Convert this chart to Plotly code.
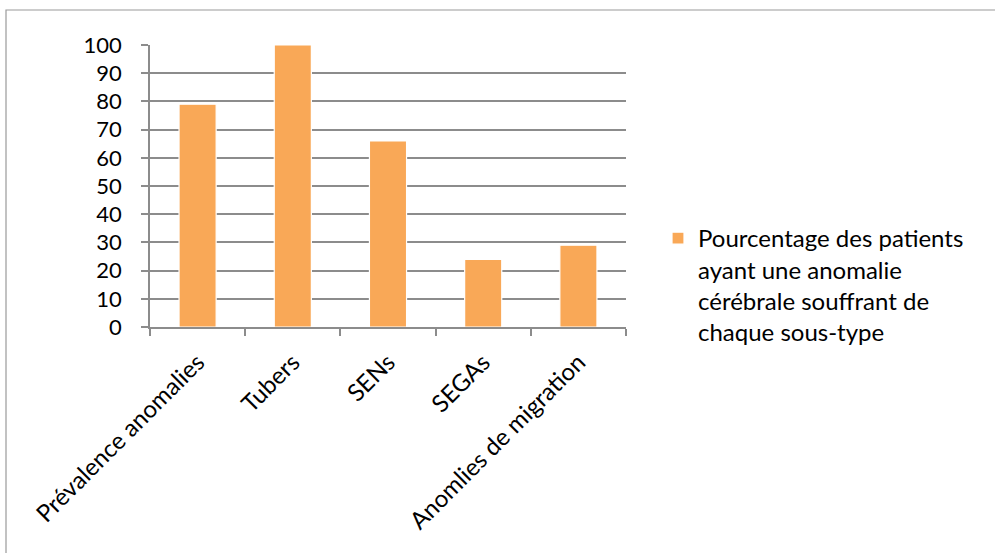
import plotly.graph_objects as go

categories = ["Prévalence anomalies", "Tubers", "SENs", "SEGAs", "Anomlies de migration"]
values = [79, 100, 66, 24, 29]
series_name = "Pourcentage des patients<br>ayant une anomalie<br>cérébrale souffrant de<br>chaque sous-type"
y_ticks = [0, 10, 20, 30, 40, 50, 60, 70, 80, 90, 100]

FONT = "Lato, 'Open Sans', sans-serif"
GRID = "#8c8c8c"

fig = go.Figure()
fig.add_trace(go.Bar(
    x=categories, y=values, name=series_name,
    marker=dict(color="#F9A857", line=dict(color="white", width=1.2)),
    showlegend=True,
))

L, R, T, B = 150, 626, 45, 327
W, H = 995, 553

def px(x):
    return (x - L) / (R - L)

def py(y):
    return (B - y) / (B - T)

fig.update_layout(
    width=W, height=H,
    margin=dict(l=L, r=W - R, t=T, b=H - B),
    paper_bgcolor="white", plot_bgcolor="white",
    font=dict(family=FONT, size=24, color="black"),
    bargap=0.61,
    showlegend=True,
    legend=dict(x=px(658), y=py(216), xanchor="left", yanchor="top",
                valign="top", font=dict(size=24, family=FONT, color="black"),
                itemwidth=30, tracegroupgap=0),
    xaxis=dict(
        showline=True, linecolor=GRID, linewidth=1.5,
        ticks="outside", ticklen=7, tickcolor=GRID, tickwidth=1.5,
        tickson="boundaries", tickangle=-45,
        tickfont=dict(size=24, family=FONT, color="black"),
        showgrid=False, zeroline=False,
        ticklabelstandoff=10,
    ),
    yaxis=dict(
        range=[0, 100], tickvals=y_ticks,
        showline=True, linecolor=GRID, linewidth=1.5,
        ticks="outside", ticklen=7, tickcolor=GRID, tickwidth=1.5,
        showgrid=True, gridcolor=GRID, gridwidth=1.6,
        zeroline=False, tickfont=dict(size=22, family=FONT, color="black"),
        ticklabelstandoff=15,
    ),
    shapes=[dict(
        type="path", xref="paper", yref="paper",
        path=f"M {px(6)} {py(560)} L {px(6)} {py(10)} L {px(1000)} {py(10)}",
        line=dict(color="#9a9a9a", width=1.2), layer="above",
    )],
)

fig.write_html("out.html")
